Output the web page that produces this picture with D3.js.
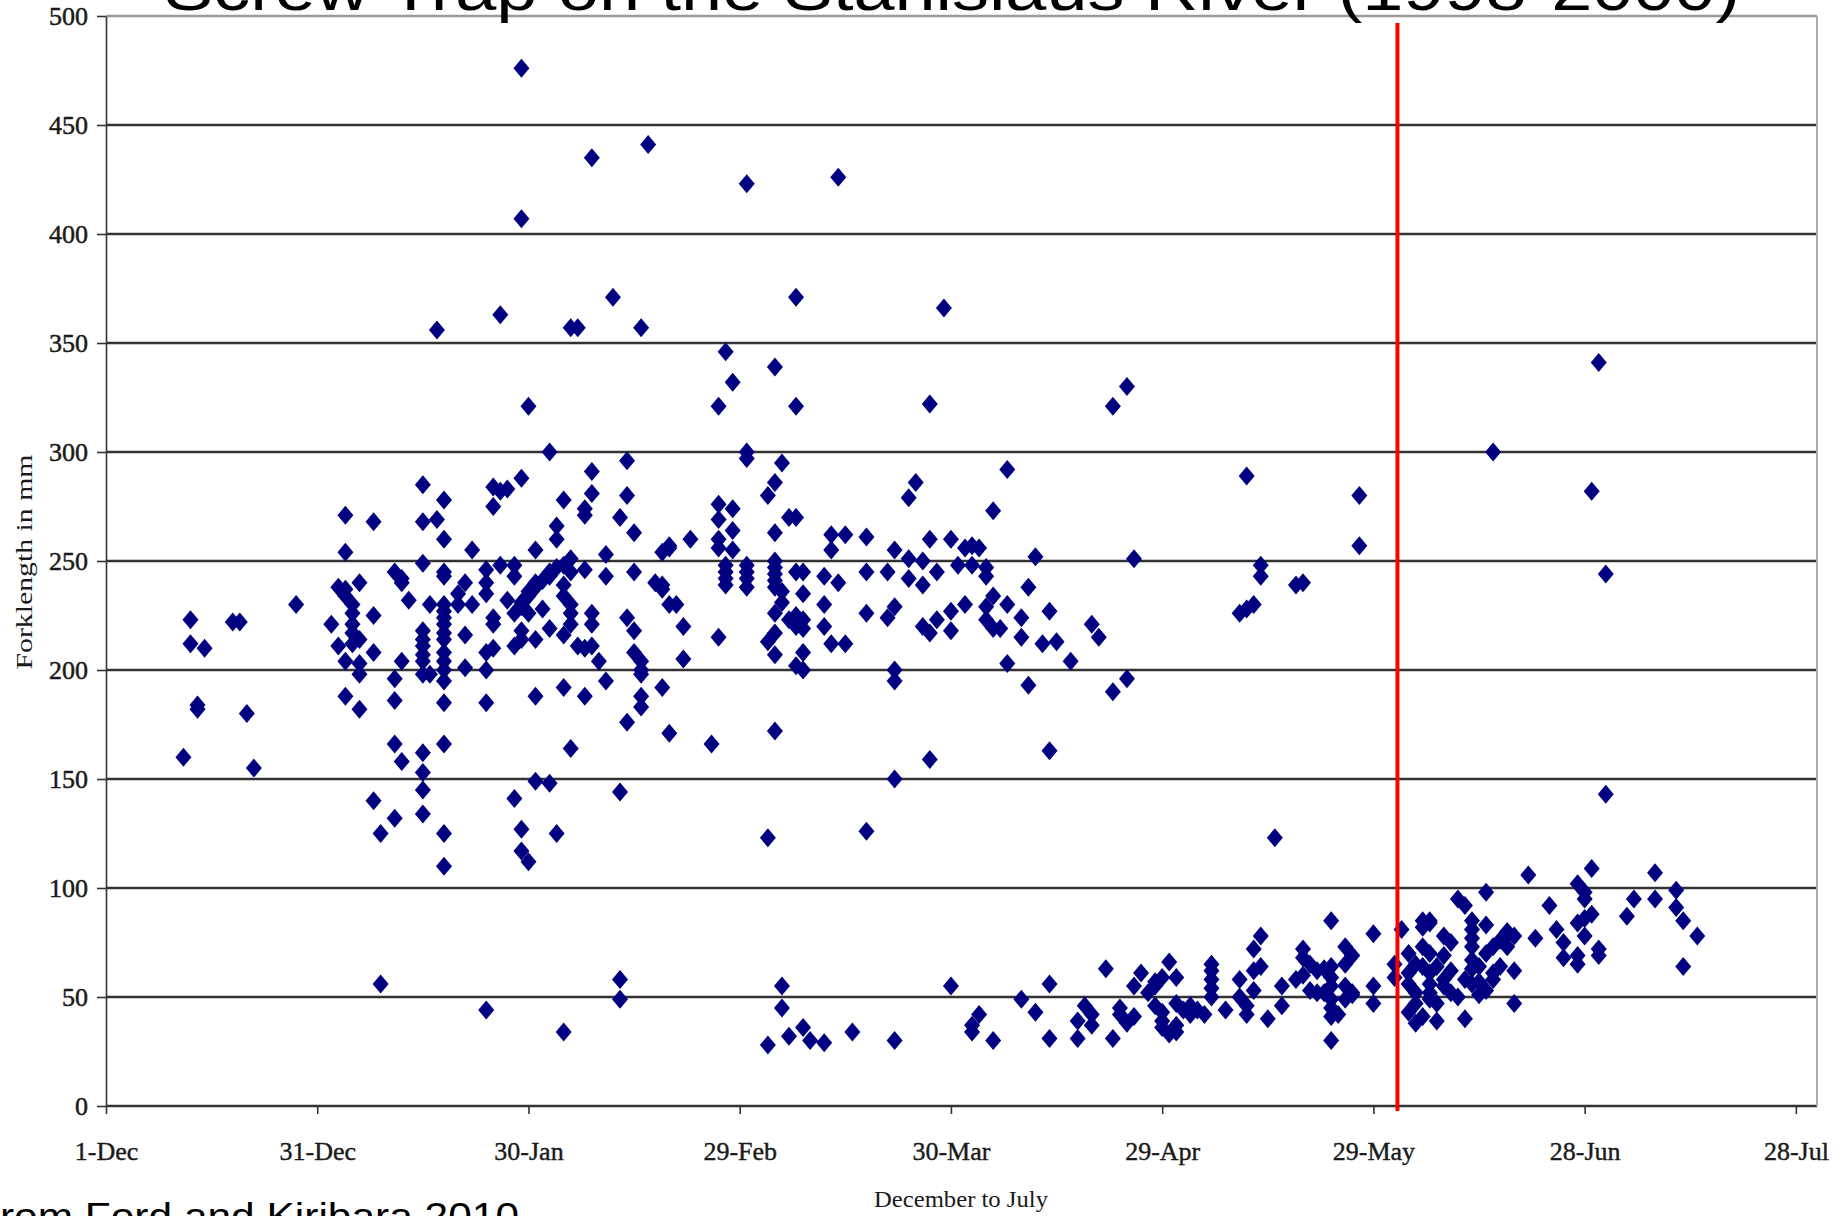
<!DOCTYPE html>
<html>
<head>
<meta charset="utf-8">
<script src="https://cdn.jsdelivr.net/npm/d3@7.9.0/dist/d3.min.js"></script>
<style>
  html, body { margin: 0; padding: 0; background: #fff; overflow: hidden; }
  svg { display: block; }
</style>
</head>
<body>
<svg id="chart" width="1841" height="1216"></svg>
<script>
// each catch is [day of month, forklength in mm]
const decCatch = [[12,160],[13,223],[13,212],[14,184],[14,182],[15,210],[19,222],[20,222],[21,180],[22,155],[28,230]];

const janCatch = [
  [2,221],[3,238],[3,211],[4,271],[4,254],[4,237],[4,234],[4,204],[4,188],
  [5,230],[5,226],[5,221],[5,217],[5,212],[6,240],[6,214],[6,203],[6,198],[6,182],
  [8,268],[8,225],[8,208],[8,140],[9,125],[9,56],
  [11,245],[11,196],[11,186],[11,166],[11,132],[12,242],[12,240],[12,204],[12,158],[13,232],
  [15,285],[15,268],[15,249],[15,218],[15,214],[15,211],[15,207],[15,204],[15,198],[15,162],[15,153],[15,145],[15,134],
  [16,230],[16,198],[17,269],[17,356],
  [18,278],[18,260],[18,245],[18,243],[18,230],[18,227],[18,224],[18,221],[18,217],[18,214],[18,208],[18,204],[18,200],[18,195],[18,185],[18,166],[18,125],[18,110],
  [20,235],[20,230],[21,240],[21,216],[21,201],[22,255],[22,230],
  [24,246],[24,240],[24,235],[24,208],[24,200],[24,185],[24,44],
  [25,284],[25,275],[25,224],[25,221],[25,210],[26,282],[26,248],[26,363],[27,283],[27,232],
  [28,248],[28,243],[28,226],[28,211],[28,141],
  [29,288],[29,229],[29,231],[29,218],[29,214],[29,476],[29,407],[29,127],[29,117],
  [30,234],[30,236],[30,226],[30,321],[30,112],[31,255],[31,238],[31,240],[31,214],[31,188],[31,149]
];

const febCatch = [
  [1,241],[1,228],[2,300],[2,243],[2,245],[2,219],[2,148],[3,266],[3,260],[3,247],[3,125],
  [4,278],[4,248],[4,239],[4,234],[4,216],[4,192],[4,34],
  [5,230],[5,226],[5,221],[5,251],[5,245],[5,164],[5,357],[6,211],[6,357],
  [7,274],[7,271],[7,246],[7,210],[7,188],[8,291],[8,281],[8,226],[8,221],[8,211],[8,435],
  [9,204],[10,253],[10,243],[10,195],[11,371],[12,270],[12,144],[12,58],[12,49],
  [13,296],[13,280],[13,224],[13,176],[14,263],[14,245],[14,218],[14,208],
  [15,204],[15,200],[15,198],[15,188],[15,183],[15,357],[16,441],[17,240],
  [18,254],[18,239],[18,237],[18,192],[19,256],[19,257],[19,230],[19,171],[20,230],
  [21,220],[21,205],[22,260],[25,166],
  [26,276],[26,269],[26,260],[26,256],[26,215],[26,321],[27,248],[27,245],[27,242],[27,239],[27,346],
  [28,274],[28,264],[28,255],[28,332]
];

const marCatch = [
  [1,300],[1,297],[1,248],[1,245],[1,242],[1,238],[1,423],[4,280],[4,213],[4,123],[4,28],
  [5,286],[5,263],[5,250],[5,247],[5,244],[5,241],[5,238],[5,226],[5,217],[5,207],[5,172],[5,339],
  [6,295],[6,236],[6,231],[6,55],[6,45],[7,270],[7,223],[7,32],
  [8,270],[8,245],[8,225],[8,220],[8,202],[8,371],[8,321],
  [9,245],[9,235],[9,223],[9,219],[9,208],[9,200],[9,36],[10,30],
  [12,243],[12,230],[12,220],[12,29],[13,262],[13,255],[13,212],[14,240],[14,426],[15,262],[15,212],[16,34],
  [18,261],[18,245],[18,226],[18,126],[21,245],[21,224],
  [22,255],[22,229],[22,200],[22,195],[22,150],[22,30],[24,251],[24,242],[24,279],[25,286],
  [26,250],[26,239],[26,220],[27,260],[27,217],[27,159],[27,322],[28,245],[28,223],[29,366],
  [30,260],[30,227],[30,218],[30,55],[31,248]
];

const aprCatch = [
  [1,256],[1,230],[2,257],[2,248],[2,34],[2,37],[3,256],[3,42],[4,247],[4,243],[4,229],[4,223],
  [5,273],[5,234],[5,219],[5,30],[6,219],[7,292],[7,230],[7,203],[9,224],[9,215],[9,49],
  [10,238],[10,193],[11,252],[11,43],[12,212],[13,227],[13,163],[13,56],[13,31],[14,213],[16,204],
  [17,39],[17,31],[18,46],[19,221],[19,42],[19,37],[20,215],[21,63],[22,190],[22,321],[22,31],
  [23,45],[23,42],[24,330],[24,196],[24,38],[25,251],[25,41],[25,55],[26,61],[27,52],
  [28,55],[28,57],[28,46],[29,59],[29,43],[29,39],[29,36],[30,33],[30,66]
];

const mayCatch = [
  [1,34],[1,37],[1,59],[1,47],[2,44],[3,46],[3,42],[4,44],[5,42],[6,65],[6,62],[6,58],[6,54],[6,50],[8,44],
  [10,58],[10,50],[10,226],[11,46],[11,42],[11,228],[11,289],[12,72],[12,62],[12,53],[12,230],
  [13,78],[13,64],[13,248],[13,243],[14,40],[15,123],[16,55],[16,46],[18,58],[18,239],
  [19,60],[19,72],[19,68],[19,240],[20,65],[20,53],[21,62],[21,52],[22,63],[22,52],
  [23,85],[23,59],[23,64],[23,55],[23,49],[23,45],[23,41],[23,30],[24,42],
  [25,73],[25,65],[25,55],[25,49],[26,69],[26,52],[26,51],[27,280],[27,257],[29,79],[29,55],[29,47]
];

const junCatch = [
  [1,65],[1,59],[2,81],[3,70],[3,61],[3,56],[3,43],[4,65],[4,52],[4,47],[4,38],
  [5,41],[5,82],[5,85],[5,73],[5,64],[6,84],[6,85],[6,70],[6,61],[6,56],[6,52],[6,49],
  [7,64],[7,47],[7,39],[8,58],[8,78],[8,69],[8,55],[9,75],[9,62],[9,52],[10,95],[10,50],
  [11,92],[11,40],[11,58],[12,85],[12,81],[12,77],[12,73],[12,67],[12,63],[12,56],
  [13,57],[13,64],[13,51],[14,98],[14,83],[14,70],[14,53],[15,73],[15,58],[15,61],[15,300],
  [16,76],[16,64],[17,79],[17,80],[17,73],[18,78],[18,62],[18,47],[20,106],[21,77],[23,92],
  [24,81],[25,75],[25,68],[27,69],[27,65],[27,102],[27,84],[28,98],[28,95],[28,86],[28,78],
  [29,109],[29,88],[29,282],[30,72],[30,69],[30,341]
];

const julCatch = [[1,244],[1,143],[4,87],[5,95],[8,107],[8,95],[11,99],[11,91],[12,85],[12,64],[14,78]];

// [year, month index, catches]
const months = [
  [1999, 11, decCatch], [2000, 0, janCatch], [2000, 1, febCatch], [2000, 2, marCatch],
  [2000, 3, aprCatch], [2000, 4, mayCatch], [2000, 5, junCatch], [2000, 6, julCatch]
];

const yTicks = [0, 50, 100, 150, 200, 250, 300, 350, 400, 450, 500];
const tickLabels = ["1-Dec", "31-Dec", "30-Jan", "29-Feb", "30-Mar", "29-Apr", "29-May", "28-Jun", "28-Jul"];
const seasonStart = Date.UTC(1999, 11, 1);
const seasonEnd = Date.UTC(2000, 6, 31);
const cutoff = Date.UTC(2000, 5, 1, 10);

const points = [];
months.forEach(([yr, mo, rows]) => {
  rows.forEach(([day, len]) => points.push({ date: new Date(Date.UTC(yr, mo, day)), len }));
});

const svg = d3.select("#chart");
const plotLeft = 106, plotRight = 1817, plotTop = 16, plotBottom = 1106;
const serif = "'Liberation Serif', 'Times New Roman', serif";

const x = d3.scaleUtc().domain([seasonStart, seasonEnd]).range([plotLeft, plotRight]);
const y = d3.scaleLinear().domain([0, 500]).range([plotBottom, plotTop]);

// horizontal grid
svg.append("g").selectAll("line")
  .data(yTicks)
  .join("line")
  .attr("x1", plotLeft).attr("x2", plotRight)
  .attr("y1", d => y(d)).attr("y2", d => y(d))
  .attr("stroke", d => d === 500 ? "#9a9a9a" : "#333")
  .attr("stroke-width", 2.5);

// frame on the right
svg.append("line")
  .attr("x1", plotRight).attr("x2", plotRight).attr("y1", plotTop).attr("y2", plotBottom)
  .attr("stroke", "#aaa").attr("stroke-width", 2);

// y axis
const yAxis = svg.append("g")
  .attr("transform", `translate(${plotLeft},0)`)
  .call(d3.axisLeft(y).tickValues(yTicks).tickSize(9).tickSizeOuter(0).tickPadding(9));
yAxis.select(".domain").attr("stroke", "#333").attr("stroke-width", 1.6);
yAxis.selectAll(".tick line").attr("stroke", "#333").attr("stroke-width", 1.6);
yAxis.selectAll("text")
  .attr("font-family", serif)
  .attr("font-size", 26).attr("fill", "#1a1a1a")
  .attr("stroke", "#1a1a1a").attr("stroke-width", 0.5);

// x axis, every 30 days
const tickDates = tickLabels.map((_, i) => d3.utcDay.offset(new Date(seasonStart), 30 * i));
const xAxis = svg.append("g")
  .attr("transform", `translate(0,${plotBottom})`)
  .call(d3.axisBottom(x).tickValues(tickDates).tickFormat((d, i) => tickLabels[i]).tickSize(8).tickSizeOuter(0));
xAxis.select(".domain").remove();
xAxis.selectAll(".tick line").attr("stroke", "#333").attr("stroke-width", 1.6);
xAxis.selectAll("text")
  .attr("y", 54).attr("dy", 0)
  .attr("font-family", serif)
  .attr("font-size", 26).attr("fill", "#1a1a1a")
  .attr("stroke", "#1a1a1a").attr("stroke-width", 0.4);

// fish
const diamond = "M0,-9.5L8,0L0,9.5L-8,0Z";
svg.append("g").selectAll("path")
  .data(points)
  .join("path")
  .attr("d", diamond)
  .attr("transform", d => `translate(${x(d.date)},${y(d.len)})`)
  .attr("fill", "#000080");

// red marker line
svg.append("line")
  .attr("x1", x(cutoff)).attr("x2", x(cutoff))
  .attr("y1", 23).attr("y2", 1111)
  .attr("stroke", "#ff0000").attr("stroke-width", 4);

// axis titles
svg.append("text")
  .attr("transform", "translate(24,562) rotate(-90)")
  .attr("text-anchor", "middle").attr("dominant-baseline", "central")
  .attr("font-family", serif)
  .attr("font-size", 23).attr("textLength", 215).attr("lengthAdjust", "spacingAndGlyphs")
  .attr("fill", "#1a1a1a")
  .text("Forklength in mm");

svg.append("text")
  .attr("x", 961).attr("y", 1207)
  .attr("text-anchor", "middle")
  .attr("font-family", serif)
  .attr("font-size", 23).attr("textLength", 174).attr("lengthAdjust", "spacingAndGlyphs")
  .attr("fill", "#1a1a1a")
  .text("December to July");

// slide title and source, both cut by the frame
svg.append("text")
  .attr("x", 164).attr("y", 10)
  .attr("font-family", "'Liberation Sans', Arial, sans-serif")
  .attr("font-size", 62).attr("textLength", 1576).attr("lengthAdjust", "spacingAndGlyphs")
  .attr("fill", "#000")
  .text("Screw Trap on the Stanislaus River (1998-2000)");

svg.append("text")
  .attr("x", -26).attr("y", 1229)
  .attr("font-family", "'Liberation Sans', Arial, sans-serif")
  .attr("font-size", 36).attr("textLength", 545).attr("lengthAdjust", "spacingAndGlyphs")
  .attr("fill", "#000")
  .text("From Ford and Kiribara 2010");
</script>
</body>
</html>
